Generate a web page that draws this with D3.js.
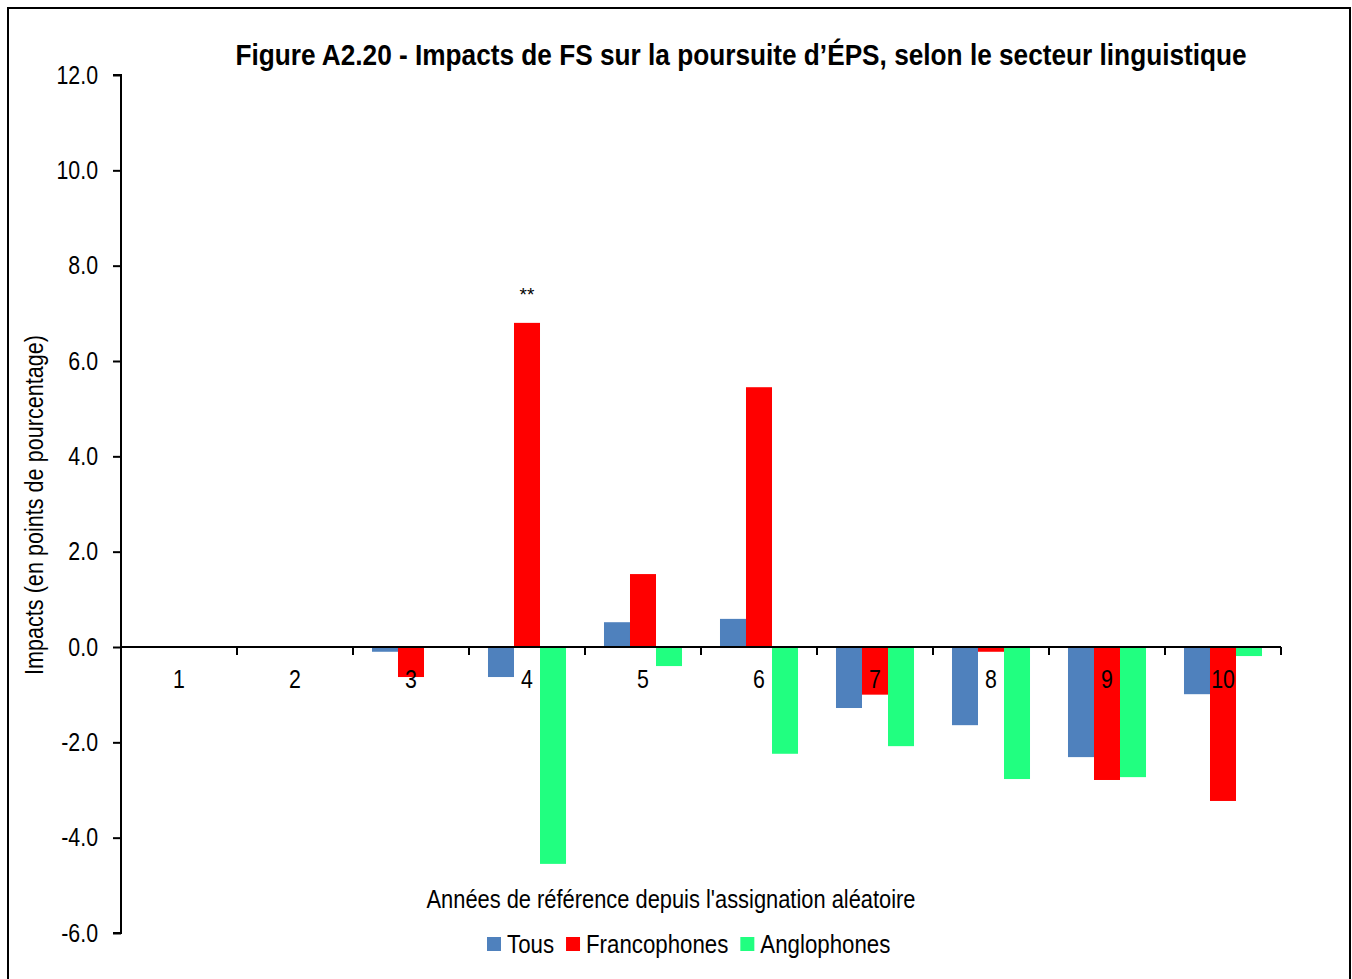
<!DOCTYPE html>
<html><head><meta charset="utf-8">
<script src="https://cdn.jsdelivr.net/npm/d3@7"></script>
<style>
body{margin:0;background:#fff;}
text{font-family:"Liberation Sans",Arial,sans-serif;fill:#000;}
</style></head>
<body><svg id="c" width="1352" height="979"></svg>
<script>
const categories = ["1","2","3","4","5","6","7","8","9","10"];
const seriesNames = ["Tous","Francophones","Anglophones"];
const tous = [null, null, -0.10, -0.63, 0.52, 0.59, -1.28, -1.64, -2.31, -0.99];
const francophones = [null, null, -0.63, 6.80, 1.53, 5.45, -1.00, -0.10, -2.79, -3.23];
const anglophones = [null, null, null, -4.55, -0.40, -2.24, -2.08, -2.77, -2.73, -0.19];
const colors = ["#4F81BD", "#FF0000", "#21FF80"];
const yTicks = [-6, -4, -2, 0, 2, 4, 6, 8, 10, 12];
const annotations = [{cat: "4", series: 1, text: "**"}];

(function(){
const NARROW = 0.82;
function narrow(sel, target, factor) {
  sel.each(function(){
    const len = this.getComputedTextLength();
    const t = target != null ? target : len * (factor || NARROW);
    d3.select(this).attr("textLength", t).attr("lengthAdjust", "spacingAndGlyphs");
  });
  return sel;
}
const svg = d3.select("#c");
svg.append("rect").attr("x", 8).attr("y", 8).attr("width", 1342).attr("height", 980)
  .attr("fill", "#fff").attr("stroke", "#000").attr("stroke-width", 2);

const mLeft = 121, mRight = 1281, mTop = 75, mBottom = 933;
const y = d3.scaleLinear().domain([-6, 12]).range([mBottom, mTop]);
const x = d3.scaleBand().domain(categories).range([mLeft, mRight]).paddingInner(0).paddingOuter(0);
const xs = d3.scaleBand().domain([0,1,2]).range([0, x.bandwidth()]).paddingInner(0).paddingOuter(0.73);

const data = [tous, francophones, anglophones];
const g = svg.append("g");
data.forEach((arr, si) => {
  g.selectAll(".b" + si).data(arr.map((v, i) => ({v, c: categories[i]})).filter(d => d.v !== null))
    .enter().append("rect")
    .attr("x", d => x(d.c) + xs(si))
    .attr("width", xs.bandwidth())
    .attr("y", d => y(Math.max(0, d.v)))
    .attr("height", d => Math.abs(y(d.v) - y(0)))
    .attr("fill", colors[si]);
});

// y axis
const fmt = v => d3.format(".1f")(v).replace("\u2212", "-");
const yAxis = d3.axisLeft(y).tickValues(yTicks).tickFormat(fmt).tickSize(8).tickPadding(15);
const ya = svg.append("g").attr("transform", `translate(${mLeft},0)`).call(yAxis);
ya.attr("font-family", null).attr("font-size", null);
ya.select(".domain").attr("stroke", "#000").attr("stroke-width", 2).attr("d", `M-8,${mTop}H0V${mBottom}H-8`);
ya.selectAll(".tick line").attr("stroke", "#000").attr("stroke-width", 2);
narrow(ya.selectAll(".tick text").attr("font-size", 26).attr("dy", "0.32em").attr("fill", "#000"));

// x axis at zero
const xAxisG = svg.append("g").attr("transform", `translate(0,${y(0)})`);
xAxisG.append("line").attr("x1", mLeft).attr("x2", mRight).attr("stroke", "#000").attr("stroke-width", 2);
const tickPos = categories.map(c => x(c)).concat([mRight]);
xAxisG.selectAll(".xt").data(tickPos).enter().append("line")
  .attr("x1", d => d).attr("x2", d => d).attr("y1", 0).attr("y2", 8)
  .attr("stroke", "#000").attr("stroke-width", 2);
narrow(xAxisG.selectAll(".xl").data(categories).enter().append("text")
  .attr("x", d => x(d) + x.bandwidth() / 2).attr("y", 41)
  .attr("text-anchor", "middle").attr("font-size", 26).text(d => d));

// annotations
annotations.forEach(a => {
  const si = a.series;
  const v = data[si][categories.indexOf(a.cat)];
  svg.append("text").attr("x", x(a.cat) + xs(si) + xs.bandwidth() / 2).attr("y", y(v) - 22)
    .attr("text-anchor", "middle").attr("font-size", 19).text(a.text);
});

// title (horizontally compressed with a transform to mimic a narrow face)
const title = svg.append("text").attr("x", 0).attr("y", 0).attr("text-anchor", "middle")
  .attr("font-size", 30).attr("font-weight", "bold")
  .text("Figure A2.20 - Impacts de FS sur la poursuite d\u2019\u00C9PS, selon le secteur linguistique");
const tLen = title.node().getComputedTextLength();
title.attr("transform", `translate(741,65) scale(${1012 / tLen},1)`);

// axis titles
narrow(svg.append("text").attr("transform", `translate(43,505) rotate(-90)`).attr("text-anchor", "middle")
  .attr("font-size", 26).text("Impacts (en points de pourcentage)"), 340);
narrow(svg.append("text").attr("x", 671).attr("y", 908).attr("text-anchor", "middle")
  .attr("font-size", 26).text("Ann\u00E9es de r\u00E9f\u00E9rence depuis l'assignation al\u00E9atoire"), 489);

// legend
const lg = svg.append("g");
let lx = 487;
seriesNames.forEach((n, i) => {
  lg.append("rect").attr("x", lx).attr("y", 937).attr("width", 14).attr("height", 14).attr("fill", colors[i]);
  const t = lg.append("text").attr("x", lx + 20).attr("y", 953).attr("font-size", 26.5).text(n);
  narrow(t, null, 0.84);
  lx += 20 + t.node().getComputedTextLength() + 12;
});
})();
</script></body></html>
